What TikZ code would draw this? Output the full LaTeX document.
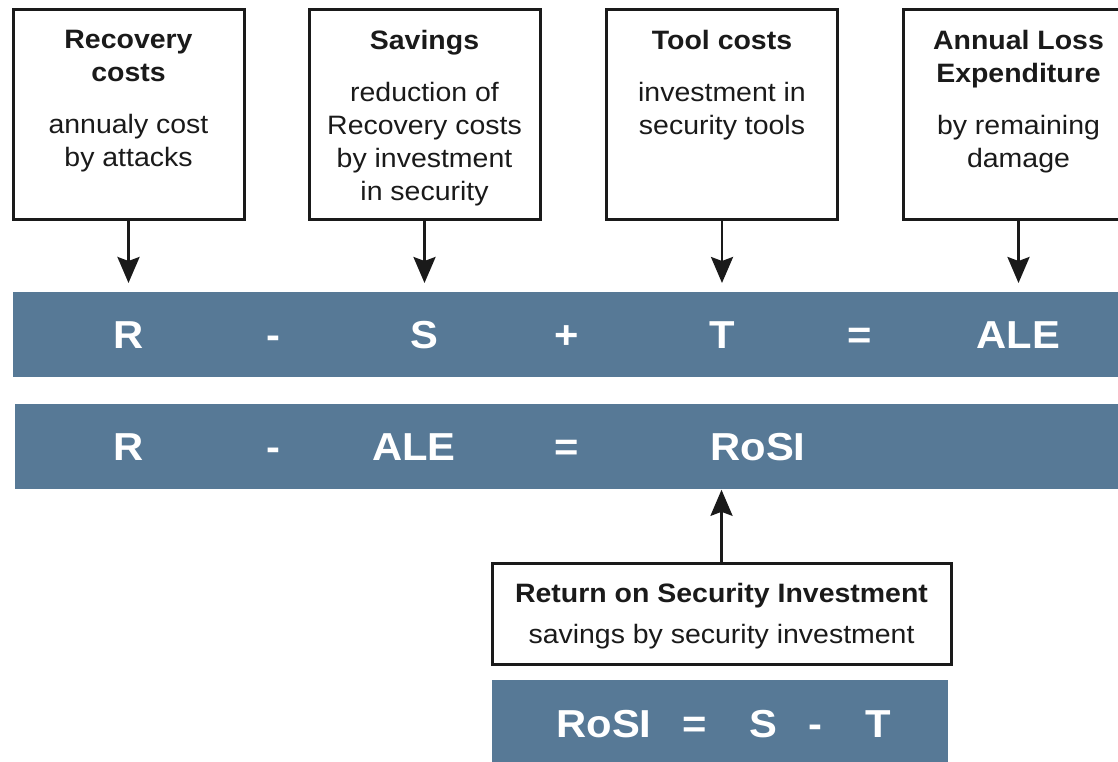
\documentclass[tikz,border=0pt]{standalone}
\usepackage{fontspec}
\setmainfont{Liberation Sans}[FakeStretch=1.07]
\usetikzlibrary{arrows.meta}
\definecolor{barblue}{HTML}{577996}
\definecolor{inkgray}{HTML}{1A1A1A}

\begin{document}
\begin{tikzpicture}[x=0.5pt, y=-0.5pt,
        costbox/.style={draw=inkgray, rectangle, line width=1.5pt, minimum width=115.5pt, minimum height=105pt, inner sep=0pt, anchor=north},
        boxtext/.style={anchor=north, align=center, inner sep=0pt, text=inkgray, font=\fontsize{13.3}{16.5}\selectfont},
        eqbar/.style={fill=barblue, rectangle, inner sep=0pt, anchor=north west, minimum height=42.5pt},
        eqsym/.style={anchor=base, inner sep=0pt, text=white, font=\fontsize{19.5}{23}\selectfont\bfseries},
        flow/.style={draw=inkgray, -{Stealth[length=13pt, width=11pt, inset=2pt]}, line width=1.4pt}]
        \useasboundingbox (0,0) rectangle (1118,761);
        \clip (0,0) rectangle (1118,761);

        % Cost boxes
        \node[costbox] (recbox) at (128.5,8) {};
        \node[costbox] (savbox) at (424.5,8) {};
        \node[costbox] (toolbox) at (722,8) {};
        \node[costbox] (alebox) at (1018.5,8) {};

        \node[boxtext] (rectext) at ([yshift=-11pt]recbox.north) {{\bfseries Recovery}\\{\bfseries costs}\\[9.5pt]annualy cost\\by attacks};
        \node[boxtext] (savtext) at ([yshift=-11pt]savbox.north) {{\bfseries Savings}\\[9.5pt]reduction of\\Recovery costs\\by investment\\in security};
        \node[boxtext] (tooltext) at ([yshift=-11pt]toolbox.north) {{\bfseries Tool costs}\\[9.5pt]investment in\\security tools};
        \node[boxtext] (aletext) at ([yshift=-11pt]alebox.north) {{\bfseries Annual Loss}\\{\bfseries Expenditure}\\[9.5pt]by remaining\\damage};

        % Equation bars
        \node[eqbar, minimum width=556pt] (sumbar) at (13,292) {};
        \node[eqbar, minimum width=555pt] (rosibar) at (15,404) {};
        \node[eqbar, minimum width=228pt] (defbar) at (492,680) {};

        % First equation
        \node[eqsym] (r1) at (128.5,348) {R};
        \node[eqsym] (m1) at (273,348) {-};
        \node[eqsym] (s1) at (424.5,348) {S};
        \node[eqsym] (p1) at (567,348) {+};
        \node[eqsym] (t1) at (722,348) {T};
        \node[eqsym] (e1) at (860,348) {=};
        \node[eqsym] (a1) at (1018.5,348) {ALE};

        % Second equation
        \node[eqsym] (r2) at (128.5,460) {R};
        \node[eqsym] (m2) at (273,460) {-};
        \node[eqsym] (a2) at (414,460) {ALE};
        \node[eqsym] (e2) at (567,460) {=};
        \node[eqsym] (q2) at (758,460) {RoSI};

        % RoSI box and definition
        \node[costbox, minimum width=229.5pt, minimum height=50.5pt] (rosibox) at (721.5,562) {};
        \node[boxtext] (rositext) at ([yshift=-10.25pt]rosibox.north) {{\bfseries Return on Security Investment}\\[4pt]savings by security investment};

        \node[eqsym] (q3) at (604,737) {RoSI};
        \node[eqsym] (e3) at (695,737) {=};
        \node[eqsym] (s3) at (763,737) {S};
        \node[eqsym] (m3) at (815,737) {-};
        \node[eqsym] (t3) at (878,737) {T};

        % Arrows into the bars
        \draw[flow, shorten >=4.5pt] (recbox.south) -- (recbox.south |- sumbar.north);
        \draw[flow, shorten >=4.5pt] (savbox.south) -- (savbox.south |- sumbar.north);
        \draw[flow, shorten >=4.5pt] (toolbox.south) -- (toolbox.south |- sumbar.north);
        \draw[flow, shorten >=4.5pt] (alebox.south) -- (alebox.south |- sumbar.north);
        \draw[flow] (rosibox.north) -- (rosibox.north |- rosibar.south);
\end{tikzpicture}
\end{document}
